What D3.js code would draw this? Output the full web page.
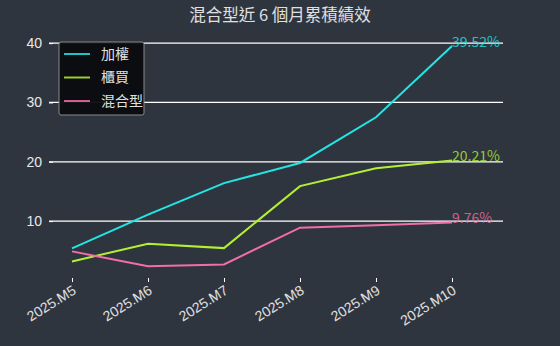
<!DOCTYPE html>
<html>
<head>
<meta charset="utf-8">
<script src="https://cdn.jsdelivr.net/npm/d3@7"></script>
<style>
  body { margin: 0; background: #2f353e; }
  svg { display: block; font-family: "Noto Sans CJK TC", "Noto Sans", sans-serif; }
</style>
</head>
<body>
<div id="chart"></div>
<script>
// ---- data ----
const months = ['2025.M5', '2025.M6', '2025.M7', '2025.M8', '2025.M9', '2025.M10'];
const taiex = [5.4, 11.1, 16.4, 19.8, 27.5, 39.52];
const otc = [3.2, 6.2, 5.45, 15.9, 18.9, 20.21];
const mixed = [4.9, 2.4, 2.7, 8.9, 9.3, 9.76];
const seriesNames = ['加權', '櫃買', '混合型'];
const yTicks = [10, 20, 30, 40];
const title = '混合型近 6 個月累積績效';

const colors = ['#22e6e6', '#b4f032', '#f06eaa'];
const series = [taiex, otc, mixed];

const width = 560, height = 346;

const svg = d3.select('#chart').append('svg')
    .attr('width', width)
    .attr('height', height);

svg.append('rect').attr('width', width).attr('height', height).attr('fill', '#2f353e');

// scales
const x = d3.scalePoint().domain(months).range([72, 452]);
const y = d3.scaleLinear().domain([0.75, 41.37]).range([276, 35]);

// title
svg.append('text')
    .attr('x', 280).attr('y', 21)
    .attr('text-anchor', 'middle')
    .attr('fill', '#e0e0e0')
    .style('font-size', '16.5px')
    .text(title);

// gridlines
svg.append('g').selectAll('line')
    .data(yTicks)
    .join('line')
    .attr('x1', 49).attr('x2', 503)
    .attr('y1', d => y(d)).attr('y2', d => y(d))
    .attr('stroke', '#ffffff')
    .attr('stroke-width', 1.2);

// y axis
const yAxis = svg.append('g')
    .attr('transform', 'translate(53,0)')
    .call(d3.axisLeft(y).tickValues(yTicks).tickSize(4).tickPadding(7));
yAxis.select('.domain').remove();
yAxis.selectAll('line').attr('stroke', '#ffffff');
yAxis.selectAll('text').attr('fill', '#e8e8e8').style('font-size', '14px');

// x axis
const xAxis = svg.append('g')
    .attr('transform', 'translate(0,278)')
    .call(d3.axisBottom(x).tickSize(4).tickPadding(6));
xAxis.select('.domain').remove();
xAxis.selectAll('line').attr('stroke', '#ffffff');
xAxis.selectAll('text')
    .attr('fill', '#e0e0e0')
    .style('font-size', '14px')
    .attr('text-anchor', 'end')
    .attr('y', 0)
    .attr('dy', '0.75em')
    .attr('transform', 'translate(-1,6) rotate(-32)');

// lines
const line = d3.line()
    .x((d, i) => x(months[i]))
    .y(d => y(d));

svg.append('g').selectAll('path')
    .data(series)
    .join('path')
    .attr('d', d => line(d))
    .attr('fill', 'none')
    .attr('stroke', (d, i) => colors[i])
    .attr('stroke-width', 2);

// end labels
svg.append('g').selectAll('text')
    .data(series)
    .join('text')
    .attr('x', x(months[months.length - 1]))
    .attr('y', d => y(d[d.length - 1]))
    .attr('dy', '0.05em')
    .attr('fill', (d, i) => colors[i])
    .attr('fill-opacity', 0.8)
    .style('font-size', '14px')
    .text(d => d[d.length - 1].toFixed(2) + '%');

// legend
const legend = svg.append('g').attr('transform', 'translate(59,42)');
legend.append('rect')
    .attr('width', 85).attr('height', 73)
    .attr('rx', 2)
    .attr('fill', '#0a0c0f')
    .attr('fill-opacity', 0.95)
    .attr('stroke', '#8a8a8a')
    .attr('stroke-width', 1);

const items = legend.selectAll('g.item')
    .data(seriesNames)
    .join('g')
    .attr('class', 'item')
    .attr('transform', (d, i) => `translate(0,${12 + i * 23.5})`);

items.append('line')
    .attr('x1', 5).attr('x2', 31)
    .attr('stroke', (d, i) => colors[i])
    .attr('stroke-opacity', 0.85)
    .attr('stroke-width', 2);

items.append('text')
    .attr('x', 42)
    .attr('dy', '0.35em')
    .attr('fill', '#e0e0e0')
    .style('font-size', '14px')
    .text(d => d);
</script>
</body>
</html>
